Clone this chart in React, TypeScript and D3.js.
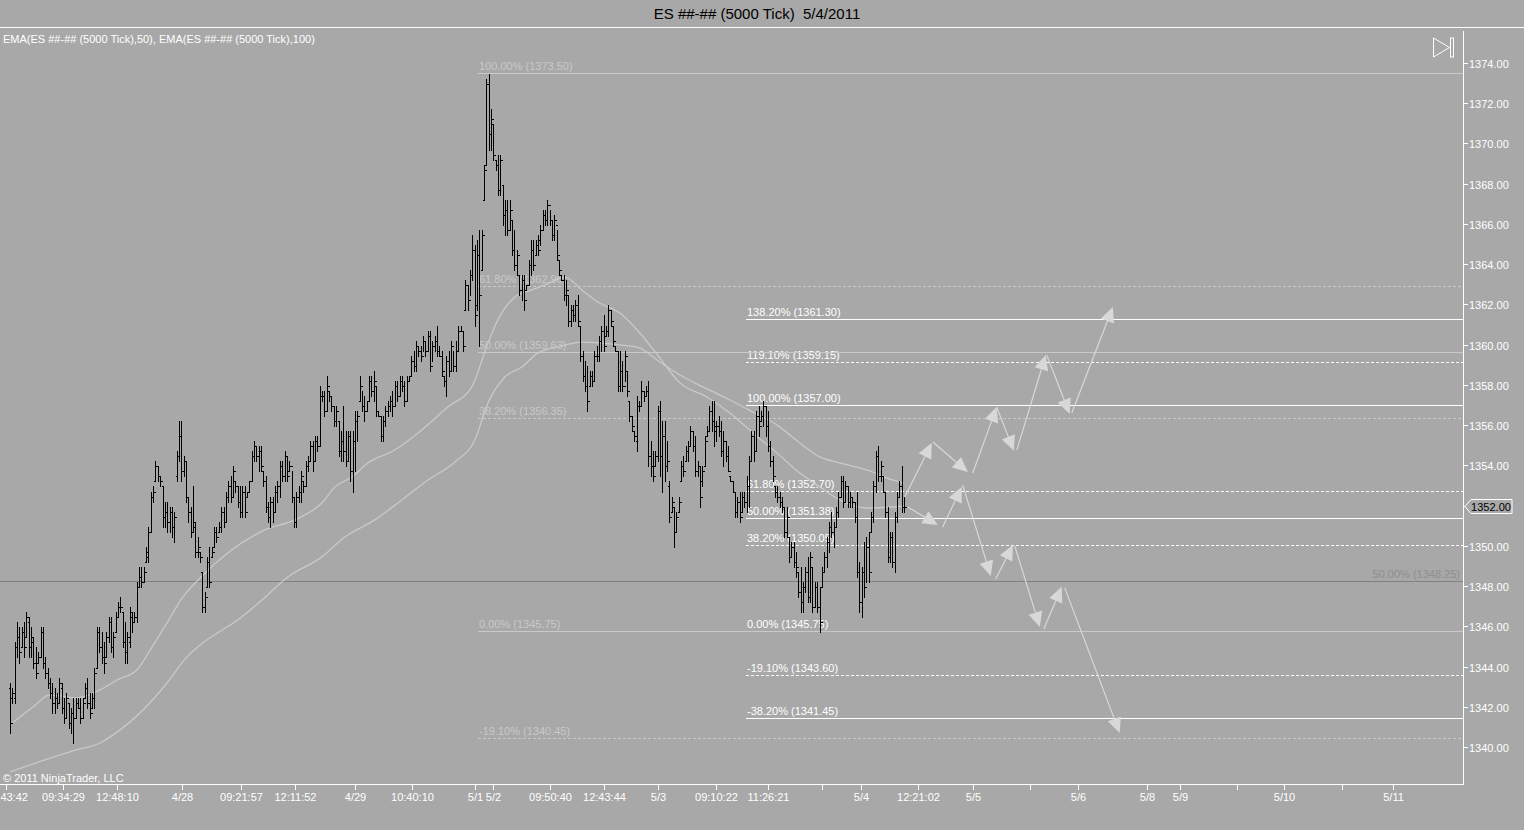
import React from 'react';
import * as d3 from 'd3';

// ---------- DATA ----------
const highs = [
1343.25,1343,1345.25,1346.25,1346,1346,1346.25,1346.75,1346.5,1346,
1345.5,1345,1344.75,1346,1346,1344.5,1344,1343.5,1343.25,1343,
1342.75,1343.5,1343.25,1342.5,1342.75,1342.25,1342,1342.5,1342.5,1342.5,
1342.5,1342.5,1343.25,1343.5,1342.75,1342.75,1344,1346,1346,1345.75,
1345.25,1345.75,1346.5,1346.5,1345.75,1346.75,1347.25,1347.5,1346.75,1346.25,
1345.75,1347,1346.75,1346.75,1348.25,1349,1349,1349,1350,1351,
1352.75,1353,1354.25,1354,1353.5,1353,1352.25,1352.25,1352,1352,
1351.75,1354.75,1356.25,1356.25,1354.5,1354.25,1352.5,1352,1353,1351.25,
1350.5,1349.75,1348.75,1347.75,1349.5,1350,1350,1351,1351,1351.25,
1352,1352,1352.75,1353.25,1353.5,1354,1353.25,1353,1353,1353,
1353,1352.75,1353.25,1354.75,1355.25,1355,1355,1355,1353.75,1353.5,
1352.25,1352.5,1352.5,1353,1353.25,1354.25,1354.25,1354.75,1354.5,1354.25,
1353.75,1352.5,1352.75,1353,1353.75,1353.25,1354.25,1354.5,1355.25,1355.25,
1355.5,1355.5,1358,1357.75,1357.75,1358.5,1357.75,1357.5,1357,1357,
1356.25,1355.75,1357,1355.75,1355.75,1355.75,1355.75,1356.75,1356.75,1358.5,
1357.75,1357.5,1357.25,1358.5,1358.5,1358.75,1358,1356.75,1356.5,1356.5,
1357,1357.25,1357.5,1357.75,1358.25,1358.25,1358.5,1358.5,1358.25,1358.5,
1358.5,1359.5,1359.75,1360.25,1360,1360,1360.5,1360.25,1360.75,1360.75,
1360.25,1360.5,1361,1360,1359.75,1358.5,1359.5,1359.75,1360.25,1359.75,
1360.25,1361,1361,1360.75,1363.25,1363,1363.75,1365.5,1365,1365.25,
1365.75,1365.75,1369,1373.25,1373.5,1371.75,1371,1369.25,1369.5,1369.5,
1368,1367.25,1367.25,1367.25,1366.25,1365.75,1364.75,1363.5,1363.5,1363.5,
1363,1364.25,1365.25,1365.25,1365.25,1365.5,1366,1366.75,1366.75,1367.25,
1366.75,1366.25,1366.5,1365.75,1364.25,1363.5,1363.5,1363.25,1362.5,1362,
1362,1362.25,1362.5,1361,1359.75,1359.25,1359,1358.75,1358.75,1359.75,
1360,1360.5,1361,1361.5,1361,1362,1361.75,1361,1360,1359.75,
1359.75,1359.25,1359.75,1358.75,1357.25,1356.5,1355.75,1357.5,1357.25,1358.25,
1357.75,1358,1358.25,1355.25,1354.75,1354.75,1357,1357.25,1356.25,1356.25,
1355.25,1353.25,1352.5,1352,1351.75,1352.5,1354.25,1354.5,1355,1355.25,
1356,1355.75,1355.5,1354.25,1354,1354,1355.5,1356,1357,1357.25,
1357.25,1356.25,1356.5,1356.25,1355.75,1355.25,1355,1353.5,1353.25,1352.75,
1352.5,1352.75,1352.75,1352.75,1353.5,1354.5,1355.75,1355.75,1356.75,1357,
1356.75,1357.25,1357,1356.75,1355.25,1354.5,1353,1353,1352.75,1352.5,
1352,1352,1350.5,1350.25,1350.25,1349.75,1348.75,1349,1348.25,1349,
1349.5,1349.75,1349,1348.25,1348.25,1348,1349,1349.75,1350.5,1351.25,
1351.75,1351.25,1352,1352.75,1353.5,1353.5,1353.25,1353,1352.75,1352.5,
1352.25,1352.75,1349.25,1349,1350.25,1350.5,1350.75,1351.75,1353.25,1354.75,
1355,1354.25,1353.5,1352.75,1352,1350.75,1350.75,1351.75,1352.75,1353.25,
1354,1352.5
];
const lows = [
1340.75,1342.25,1342.25,1344.5,1344.25,1345,1344.5,1345.5,1344.5,1344.5,
1344,1343.5,1344.25,1344.5,1344,1343.5,1343,1342.5,1341.75,1341.75,
1342,1342.25,1341.75,1341.25,1341.5,1341,1340.75,1340.25,1341.5,1342,
1341.25,1341.5,1342.5,1342,1341.5,1342,1342,1344,1344.75,1344.25,
1343.75,1344.5,1345.25,1344.75,1344.5,1345.75,1346.5,1346.75,1345,1344.25,
1344.25,1345,1345.75,1346.25,1346.25,1348,1348,1348.25,1349.25,1349.25,
1350.75,1352.25,1353.25,1353.25,1353,1351,1351,1350.75,1350.75,1350.5,
1350.25,1353.25,1354.25,1353.25,1353.5,1352.25,1351.25,1350.5,1350.75,1349.5,
1349.5,1349.25,1346.75,1346.75,1348,1348,1349.5,1350,1350.25,1350.75,
1350.75,1351,1351.25,1352.25,1352.25,1352.5,1352.75,1352,1351.5,1351.5,
1351.5,1352.5,1352.75,1353.25,1354.25,1354.25,1353.75,1353.75,1353,1351.75,
1351.25,1351,1351.25,1351.75,1352.25,1352.5,1353.25,1353.25,1353.25,1353.75,
1352.25,1351,1351,1352.25,1352.25,1352.75,1353,1353.75,1354.25,1353.75,
1354.25,1354.75,1355,1357.25,1356.5,1356.75,1357.25,1356.75,1356,1356,
1354.5,1354.25,1354.25,1354,1354.25,1353.25,1352.75,1353.75,1355.25,1357.25,
1356.75,1356.25,1356.75,1357.25,1357.5,1357.25,1356.5,1356.5,1355.25,1355.25,
1356,1356.5,1356.75,1356.5,1357,1357.25,1357.5,1357.75,1357,1357.25,
1358.25,1358.5,1358.75,1358.75,1359.5,1359.25,1359.75,1359.5,1359.75,1358.75,
1359.25,1359.75,1359.5,1359.5,1358.5,1358,1357.5,1358.5,1358.75,1358.75,
1358.75,1359.75,1360.75,1359.75,1361.75,1361.75,1362.5,1363.25,1361,1361.75,
1360,1363.75,1367.25,1369,1369.75,1369.75,1369.25,1368.75,1367.5,1367.5,
1366,1365.5,1365.5,1365.75,1364.5,1363.75,1363.5,1362.5,1362.25,1361.75,
1362.75,1363,1363.5,1363.75,1364.5,1364.5,1365,1365.75,1366,1366,
1366,1365.25,1365.25,1364.25,1363.5,1363.25,1362.25,1362,1361,1361,
1361.25,1361.25,1361,1359.25,1358.25,1357.75,1356.75,1358,1358,1358.25,
1359.25,1359.25,1359.75,1359.75,1360.5,1360.5,1361,1360,1359.75,1357.75,
1357.75,1357.75,1358.25,1357.5,1356.25,1355.75,1355.25,1354.75,1356.75,1357,
1357.25,1357.5,1354,1353.5,1353.25,1354,1354.25,1353.5,1352.75,1353.25,
1353.75,1351.25,1351.75,1350,1350.75,1351.75,1353.25,1353.5,1354.25,1354.25,
1355,1354.75,1353.5,1353.5,1352,1353,1354,1355.5,1355.75,1355.75,
1355,1355.25,1355.5,1354.5,1354,1354.25,1353.75,1353.25,1352.75,1351.5,
1351.5,1351.25,1351.75,1352,1351.75,1352,1354.25,1354.25,1354.75,1355.5,
1356.25,1356,1355.5,1354.75,1354,1353.25,1352.5,1352.25,1352,1351.75,
1350.5,1350.5,1349.25,1349.5,1349,1348.5,1347.5,1346.75,1346.75,1347.75,
1347.25,1347.25,1346.75,1347,1346.75,1345.75,1348,1348.75,1349,1349.75,
1350.5,1350,1351,1351.5,1352.5,1352,1352.25,1352,1352,1352,
1351.25,1348.5,1346.75,1346.5,1347.5,1348.25,1348.25,1350.75,1351.25,1352.75,
1353.25,1353.25,1352.75,1351.5,1349.25,1349.25,1349,1348.75,1351.25,1352.5,
1351.75,1351.75
];
const opens = [
1343,1342.5,1342.5,1345,1345.5,1345,1345.75,1345.5,1346.25,1345,
1345.25,1344.25,1344.25,1344.5,1345.75,1344.25,1343.75,1343.25,1342.75,1342.25,
1342.5,1342.25,1343,1342,1341.5,1342.25,1341.25,1341.75,1341.5,1342.25,
1342,1341.5,1342.5,1343,1342.25,1342,1342.5,1344,1345.75,1345,
1344.5,1344.5,1345.5,1346.25,1345,1345.75,1346.5,1347,1346.75,1345.25,
1344.75,1345.25,1346.5,1346.25,1346.5,1348,1348.5,1348.25,1349.25,1349.5,
1350.75,1352.5,1353.25,1354,1353.5,1353,1351.5,1351.75,1351.25,1351.75,
1351,1353.5,1354.5,1355.5,1353.75,1354.25,1352.5,1351.75,1350.75,1351,
1349.75,1349.75,1348.75,1347,1348,1349.25,1349.5,1350,1350.75,1350.75,
1351,1351.75,1351.25,1352.5,1353,1352.5,1353.25,1353,1352.25,1351.75,
1352.75,1352.5,1352.75,1353.25,1354.5,1355,1354.5,1354.75,1353.75,1353.25,
1352,1351.5,1352.25,1351.75,1352.75,1353,1354,1353.5,1354.5,1353.75,
1354,1352.5,1351.25,1352.5,1352.75,1353.25,1353,1354,1354.25,1355,
1354.25,1355.25,1355,1357.5,1357.5,1356.75,1357.75,1357.5,1357,1356.25,
1356.25,1354.75,1355.25,1354.75,1354.25,1355.5,1353.75,1355.25,1356.25,1357.25,
1358,1357,1356.75,1357.25,1358.25,1357.75,1358,1356.75,1356.5,1355.5,
1356.25,1356.75,1357,1357.25,1357,1358,1357.5,1358.25,1358,1357.25,
1358.25,1358.5,1359.25,1359,1360,1359.75,1359.5,1360.25,1359.75,1360.5,
1359,1360,1360.25,1359.75,1359.5,1358.5,1358.25,1359.25,1358.75,1360,
1359,1359.75,1360.75,1360.75,1361.75,1363,1362.25,1363.5,1364.75,1362,
1364.5,1363.75,1367.25,1369,1373,1370.5,1371,1369.25,1369,1367.75,
1368,1366.5,1366.75,1365.75,1366.25,1364.75,1364,1363.5,1362.75,1363.25,
1362.75,1363,1364,1364.75,1364.5,1365,1365.25,1365.75,1366.5,1366.25,
1367,1366.25,1365.5,1366,1364.25,1363.5,1363.25,1362.5,1362.5,1361.25,
1361.75,1361.5,1362,1361,1359.5,1358.5,1358,1358,1358.5,1358.25,
1359.5,1359.5,1360.25,1360.75,1360.5,1360.75,1361.75,1361,1360,1359.75,
1358,1358.75,1358,1358.75,1357.25,1356.5,1355.75,1355.25,1357,1357,
1357.75,1357.5,1357.75,1354.5,1354,1354,1354.5,1356.75,1354.5,1355.5,
1354,1353,1351.75,1352,1350.75,1351.75,1353.25,1354,1354.25,1354.75,
1355,1355.75,1355,1353.75,1354,1353.25,1354,1355.5,1355.75,1356.75,
1356.25,1355.75,1356,1355.75,1354.75,1355.25,1354.5,1353.5,1353.25,1352.75,
1351.75,1352.25,1351.75,1352.5,1352.25,1353,1354.25,1355.5,1354.75,1356.5,
1356.25,1356.5,1357,1356,1355,1354.25,1353,1352.75,1352.5,1352.25,
1352,1350.75,1350.5,1349.5,1350,1349.25,1348.75,1347.75,1347.25,1348,
1348.75,1347.5,1349,1347,1348,1347,1348,1348.75,1349.5,1350.25,
1351,1350.75,1351,1351.75,1352.5,1353.25,1352.25,1353,1352.25,1352.5,
1352.25,1351.5,1348.75,1347.25,1348.75,1348,1350,1350.75,1351.5,1353,
1354.5,1353.5,1353.5,1352.75,1351.75,1349.5,1350.5,1349.25,1351.5,1352.5,
1353,1352
];
const closes = [
1341.25,1342.75,1345,1345.5,1344.75,1345.75,1345,1346.5,1345,1345.5,
1344.25,1343.75,1344.5,1345.75,1344.25,1343.75,1343.25,1342.75,1342.25,1342.5,
1342.25,1343.25,1342,1341.5,1342.5,1341.25,1341.75,1341.5,1342.25,1342,
1341.5,1342.25,1343,1342.25,1341.75,1342.5,1343.75,1345.75,1345,1344.5,
1344.25,1345.5,1346.25,1345,1345.5,1346.5,1347,1347,1345.25,1344.75,
1345.5,1346.75,1346.25,1346.5,1348,1348.5,1348.25,1348.75,1349.75,1350.75,
1352.5,1352.75,1354,1353.5,1353.25,1351.5,1351.75,1351.25,1351.75,1351,
1351.5,1354.5,1355.5,1353.75,1354.25,1352.5,1351.75,1350.75,1351.25,1349.75,
1350,1349.5,1347,1347.5,1349.25,1348.25,1349.75,1350.75,1350.5,1351,
1351.75,1351.25,1352.5,1353,1352.5,1353.75,1353,1352.25,1351.75,1352.75,
1351.75,1352.75,1353.25,1354.5,1355,1354.5,1354.75,1354,1353.25,1352,
1351.5,1352.25,1351.75,1352.75,1353,1354,1353.5,1354.5,1353.5,1354,
1352.5,1351.25,1352.5,1352.75,1353.5,1353,1354,1354.25,1355,1354.25,
1355.25,1355,1357.5,1357.5,1356.75,1358,1357.5,1357,1356.25,1356.75,
1354.75,1355.25,1354.75,1354.25,1355.5,1353.75,1355.25,1356.25,1356.5,1358,
1357,1356.75,1357.25,1358.25,1357.75,1358.25,1356.75,1356.5,1355.5,1356.25,
1356.75,1357,1357.25,1357,1358,1357.5,1358.25,1358,1357.25,1358.25,
1358.5,1359.25,1359,1360,1359.75,1359.5,1360.25,1359.75,1360.5,1359,
1360,1360.25,1359.75,1359.5,1358.75,1358.25,1359.25,1358.75,1360,1359,
1359.75,1360.75,1360.75,1360,1363,1362.25,1363.5,1364.75,1361.5,1364.5,
1362.5,1365.5,1368.75,1373,1370.5,1371.25,1369.5,1369,1367.75,1369.25,
1366.5,1366.75,1365.75,1366.75,1364.75,1364,1364.5,1362.75,1363.25,1362.25,
1363,1364,1364.75,1364,1365,1364.75,1365.75,1366.5,1366.25,1367,
1366.25,1365.5,1366.25,1364.5,1363.75,1363.25,1362.5,1362.75,1361.25,1361.75,
1361.5,1362,1361.25,1359.5,1358.5,1358,1357.25,1358.5,1358.25,1359.5,
1359.5,1360.25,1360.75,1360,1360.75,1361.75,1361.25,1360.25,1359.75,1358,
1358.75,1358,1359.5,1357.75,1356.5,1356,1355.5,1357,1357,1357.75,
1357.5,1357.75,1354.5,1354,1353.5,1354.5,1356.75,1354.5,1355.5,1354,
1354.25,1351.5,1352.25,1350.75,1351.5,1352.25,1354,1353.75,1354.75,1355,
1355.75,1355,1353.75,1354,1352.5,1353.75,1355.25,1355.75,1356.75,1356.25,
1356,1356,1355.75,1354.75,1355.25,1354.5,1353.75,1353.25,1352.75,1351.75,
1352.25,1351.5,1352.5,1352.25,1353,1354.25,1355.5,1354.75,1356.5,1356,
1356.5,1357,1356,1355,1354.25,1353.5,1352.75,1352.5,1352.25,1352,
1350.75,1351.5,1349.5,1350,1349.25,1349,1347.75,1347.25,1348,1348.75,
1347.5,1349.5,1347,1348,1347,1346.25,1348.75,1349.5,1350.25,1351,
1350.75,1351,1351.75,1352.5,1353.25,1352.25,1353,1352.25,1352.5,1352.25,
1351.5,1348.75,1347.25,1348.75,1348,1350,1348.75,1351.5,1353,1354.5,
1353.5,1354,1352.75,1351.75,1349.5,1350.5,1349.25,1351.5,1352.5,1353,
1352,1352
];

// EMA(50) and EMA(100): bar index -> price
const ema50Idx = [0,9.8,17,28.5,38.3,45.6,54.1,59.7,66.9,73.7,81,92.9,108.6,121.4,132.9,138.5,145.7,152.5,164,175.5,186.6,196.8,203.7,207.9,215.2,222.4,228,236.5,243.7,250.5,259.9,268.4,276.9,285.5,297,306.8,316.6,326.8,336.6,345.1,353.6,365.1,376.2,381];
const ema50Val = [1341.15,1342.04,1342.64,1342.49,1342.89,1343.38,1343.88,1344.87,1346.22,1347.51,1348.45,1349.7,1350.84,1351.34,1352.18,1352.98,1353.47,1354.17,1354.81,1355.81,1356.95,1357.95,1360.13,1361.28,1362.42,1362.77,1363.02,1363.41,1362.77,1362.17,1361.62,1360.63,1359.39,1358.15,1357.45,1356.65,1355.66,1354.67,1353.67,1352.98,1352.33,1351.93,1351.98,1352.03];
const ema100Idx = [0,14.9,26.8,38.3,46.9,56.7,66.9,75.4,81,97.1,107.4,118.4,132.9,142.7,155.5,167,178.1,189.6,198.1,203.7,210.9,218.2,225,236.5,243.7,252.2,260.8,268.4,276.9,285.5,295.3,306.8,316.6,326.8,336.6,345.1,353.6,365.1,376.2,381];
const ema100Val = [1338.81,1339.41,1339.86,1340.25,1340.9,1341.89,1343.23,1344.53,1345.12,1346.37,1347.36,1348.5,1349.5,1350.49,1351.34,1352.33,1353.32,1354.22,1355.31,1357.15,1358.44,1358.94,1359.64,1360.03,1360.18,1360.13,1360.03,1359.88,1359.19,1358.54,1357.95,1357.3,1356.7,1356.06,1355.16,1354.47,1354.17,1353.82,1353.32,1353.17];

const priceTicks = [1340,1342,1344,1346,1348,1350,1352,1354,1356,1358,1360,1362,1364,1366,1368,1370,1372,1374];

// time axis: bar index of each label
const timeTickIdx = [-1.5,22.5,45.5,73.5,98.5,121.5,147,171.5,198,206,230,253,276,301,323,346,362.5,387,410.5,434.5,455,484.5,498.5,523,543,567.5,589.5];
const timeTickLabels = ['14:43:42','09:34:29','12:48:10','4/28','09:21:57','12:11:52','4/29','10:40:10','5/1','5/2','09:50:40','12:43:44','5/3','09:10:22','11:26:21','','5/4','12:21:02','5/5','','5/6','5/8','5/9','','5/10','','5/11'];

// Fibonacci retracements
const fibLeftAnchors = [1345.75, 1373.5];
const fibLeftLevels = [100, 61.8, 50, 38.2, 0, -19.1];
const fibLeftDashed = [false, true, false, true, false, true];
const fibLeftStart = 199.5;

const fibRightAnchors = [1345.75, 1357.0];
const fibRightLevels = [138.2, 119.1, 100, 61.8, 50, 38.2, 0, -19.1, -38.2];
const fibRightDashed = [false, true, false, true, false, true, false, true, false];
const fibRightStart = 313.5;

const midLinePrice = 1348.25;
const midLineLabel = '50.00% (1348.25)';

// projected path arrows (bar index, price)
const arrowFromIdx =   [381.3,393.3,410.3,420.5,429.1,441.8,452.5, 382.6,397.5,406.0,420.1,428.2,440.6,449.5];
const arrowFromPrice = [1352.48,1355.21,1353.67,1356.95,1354.81,1359.54,1356.65, 1351.98,1350.99,1353.08,1348.40,1350.04,1345.92,1347.96];
const arrowToIdx =     [392.8,408.2,420.5,427.8,441.4,451.6,470.0, 395.4,405.6,418.0,427.4,438.9,448.2,472.9];
const arrowToPrice =   [1355.16,1353.72,1356.95,1354.77,1359.54,1356.60,1361.92, 1351.09,1352.98,1348.55,1350.09,1346.02,1348.01,1340.75];

const title = 'ES ##-## (5000 Tick)  5/4/2011';
const indicatorLabel = 'EMA(ES ##-## (5000 Tick),50), EMA(ES ##-## (5000 Tick),100)';
const copyright = '\u00a9 2011 NinjaTrader, LLC';

// ---------- LAYOUT ----------
const W = 1524, H = 830;
const AXIS_X = 1463, AXIS_Y = 784, TOP = 27;
const BG = '#a8a8a8';
const FONT = '"Liberation Sans", Arial, sans-serif';

export default function App() {
  const N = highs.length;
  const x = d3.scaleLinear().domain([0, N - 1]).range([10, 904]);
  const y = d3.scaleLinear().domain([1340, 1374]).range([748, 64]);

  let barPath = '';
  for (let i = 0; i < N; i++) {
    const xi = Math.round(x(i)) + 0.5;
    const yh = Math.round(y(highs[i])), yl = Math.round(y(lows[i]));
    const yo = Math.round(y(opens[i])) + 0.5, yc = Math.round(y(closes[i])) + 0.5;
    barPath += `M${xi},${yh}V${yl + 1}M${xi - 2},${yo}H${xi}M${xi},${yc}H${xi + 2}`;
  }

  const line = d3.line<[number, number]>().x((d) => x(d[0])).y((d) => y(d[1])).curve(d3.curveMonotoneX);
  const emaPaths = [
    line(ema50Idx.map((v, i) => [v, ema50Val[i]] as [number, number])) || '',
    line(ema100Idx.map((v, i) => [v, ema100Val[i]] as [number, number])) || '',
  ];

  const fibs = [
    { anchors: fibRightAnchors, levels: fibRightLevels, dashed: fibRightDashed, start: fibRightStart, color: '#ffffff' },
    { anchors: fibLeftAnchors, levels: fibLeftLevels, dashed: fibLeftDashed, start: fibLeftStart, color: '#c9c9c9' },
  ];

  const last = closes[N - 1];
  const ly = Math.round(y(last));

  return (
    <div style={{ position: 'absolute', left: 0, top: 0 }}>
      <svg width={W} height={H} style={{ display: 'block', fontFamily: FONT }}>
        <rect x={0} y={0} width={W} height={H} fill={BG} />
        <text x={757} y={13} textAnchor="middle" dominantBaseline="central" fontSize={15} fill="#000" style={{ whiteSpace: 'pre' }}>{title}</text>
        <line x1={0} x2={W} y1={TOP + 0.5} y2={TOP + 0.5} stroke="#fff" strokeWidth={1} />
        <text x={3} y={39} dominantBaseline="central" fontSize={11} fill="#fff">{indicatorLabel}</text>

        {/* fib retracements */}
        {fibs.map((f, k) => (
          <g key={k}>
            {f.levels.map((lv, j) => {
              const price = f.anchors[0] + (f.anchors[1] - f.anchors[0]) * lv / 100;
              const yy = Math.round(y(price)) - 0.5;
              const x0 = Math.round(x(f.start));
              return (
                <g key={j}>
                  <line x1={x0} x2={AXIS_X} y1={yy} y2={yy} stroke={f.color} strokeWidth={1}
                    strokeDasharray={f.dashed[j] ? '3,2' : undefined} />
                  <text x={x0 + 1} y={yy - 7.5} dominantBaseline="central" fontSize={11} fill={f.color}>
                    {`${lv.toFixed(2)}% (${price.toFixed(2)})`}
                  </text>
                </g>
              );
            })}
          </g>
        ))}

        {/* mid line */}
        <line x1={0} x2={AXIS_X} y1={Math.round(y(midLinePrice)) - 0.5} y2={Math.round(y(midLinePrice)) - 0.5} stroke="#808080" strokeWidth={1} />
        <text x={1460} y={Math.round(y(midLinePrice)) - 8} textAnchor="end" dominantBaseline="central" fontSize={11} fill="#8e8e8e">{midLineLabel}</text>

        {/* EMAs */}
        {emaPaths.map((d, k) => (
          <path key={k} d={d} fill="none" stroke="#cfcfcf" strokeWidth={1.3} strokeOpacity={0.85} />
        ))}

        {/* bars */}
        <path d={barPath} fill="none" stroke="#000" strokeWidth={1} shapeRendering="crispEdges" />

        {/* arrows */}
        {arrowFromIdx.map((_, i) => {
          const x1 = x(arrowFromIdx[i]), y1 = y(arrowFromPrice[i]);
          const x2 = x(arrowToIdx[i]), y2 = y(arrowToPrice[i]);
          const ang = Math.atan2(y2 - y1, x2 - x1);
          const L = 15, Wd = 7;
          const bx = x2 - L * Math.cos(ang), by = y2 - L * Math.sin(ang);
          const px = -Math.sin(ang) * Wd, py = Math.cos(ang) * Wd;
          return (
            <g key={i}>
              <line x1={x1} y1={y1} x2={bx} y2={by} stroke="#d8d8d8" strokeWidth={1.2} />
              <polygon points={`${x2},${y2} ${bx + px},${by + py} ${bx - px},${by - py}`} fill="#d8d8d8" />
            </g>
          );
        })}

        {/* icon */}
        <polygon points="1433.5,38 1449.5,47.5 1433.5,57" fill="none" stroke="#fff" strokeWidth={1} />
        <rect x={1450.5} y={38} width={3} height={19} fill="none" stroke="#fff" strokeWidth={1} />

        {/* axes */}
        <line x1={AXIS_X + 0.5} x2={AXIS_X + 0.5} y1={31} y2={AXIS_Y + 0.5} stroke="#fff" strokeWidth={1} />
        <line x1={0} x2={AXIS_X + 1} y1={AXIS_Y + 0.5} y2={AXIS_Y + 0.5} stroke="#fff" strokeWidth={1} />
        {priceTicks.map((p) => {
          const yy = Math.round(y(p)) - 0.5;
          return (
            <g key={p}>
              <line x1={AXIS_X} x2={AXIS_X + 5} y1={yy} y2={yy} stroke="#fff" />
              <text x={AXIS_X + 6} y={yy} dominantBaseline="central" fontSize={11} fill="#fff">{p.toFixed(2)}</text>
            </g>
          );
        })}
        {timeTickIdx.map((t, i) => {
          const xx = Math.round(x(t)) + 0.5;
          return (
            <g key={i}>
              <line x1={xx} x2={xx} y1={AXIS_Y} y2={AXIS_Y + 6} stroke="#fff" />
              <text x={xx} y={797} textAnchor="middle" dominantBaseline="central" fontSize={11} fill="#fff">{timeTickLabels[i]}</text>
            </g>
          );
        })}

        {/* last price marker */}
        <polygon points={`${AXIS_X + 2},${ly - 0.5} ${AXIS_X + 8},${ly - 7.5} ${AXIS_X + 49},${ly - 7.5} ${AXIS_X + 49},${ly + 6.5} ${AXIS_X + 8},${ly + 6.5}`}
          fill={BG} stroke="#fff" strokeWidth={1} />
        <text x={AXIS_X + 28} y={ly - 0.5} textAnchor="middle" dominantBaseline="central" fontSize={11} fill="#000">{last.toFixed(2)}</text>

        <text x={3} y={778} dominantBaseline="central" fontSize={11} fill="#fff">{copyright}</text>
      </svg>
    </div>
  );
}
